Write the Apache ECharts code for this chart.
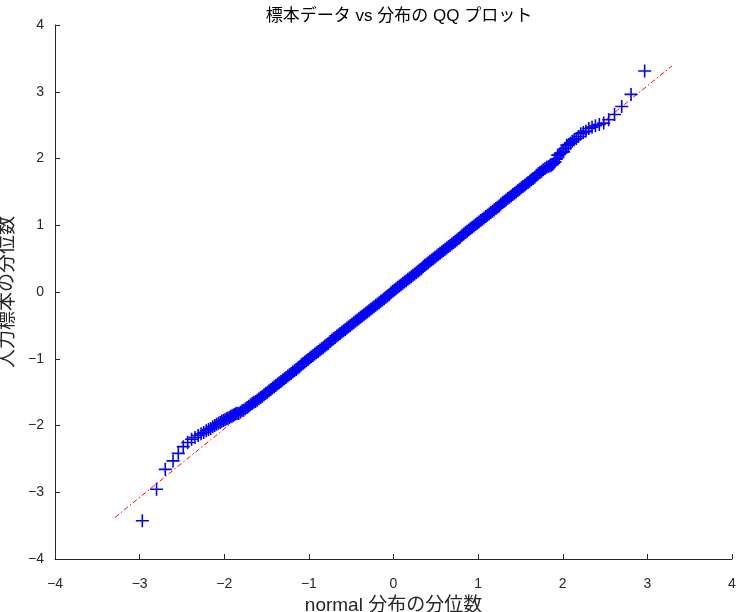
<!DOCTYPE html>
<html>
<head>
<meta charset="utf-8">
<script src="https://cdn.jsdelivr.net/npm/echarts@6/dist/echarts.min.js"></script>
<style>
html,body{margin:0;padding:0;background:#fff;}
#chart{width:739px;height:612px;}
</style>
</head>
<body>
<div id="chart"></div>
<script>
// Lower tail: theoretical quantiles / sample quantiles
var lowTailX = [-2.968,-2.800,-2.697,-2.605,-2.543,-2.484,-2.432,-2.386,-2.346,-2.308,-2.274,-2.243,-2.213,-2.186,-2.160,-2.135,-2.112,-2.090,-2.069,-2.048,-2.029,-2.010,-1.991,-1.974,-1.957,-1.940,-1.924,-1.908,-1.893,-1.878,-1.863,-1.849];
var lowTailY = [-3.426,-2.956,-2.657,-2.530,-2.417,-2.317,-2.255,-2.207,-2.180,-2.150,-2.125,-2.105,-2.080,-2.060,-2.045,-2.020,-2.000,-1.980,-1.965,-1.955,-1.935,-1.925,-1.915,-1.900,-1.893,-1.880,-1.865,-1.855,-1.845,-1.835,-1.825,-1.815];
// Dense middle band
var midX = [
  -1.83,-1.81,-1.79,-1.77,-1.75,-1.73,-1.71,-1.69,-1.67,-1.65,-1.63,-1.61,-1.59,-1.57,-1.55,-1.53,-1.51,-1.49,-1.47,-1.45,
  -1.43,-1.41,-1.39,-1.37,-1.35,-1.33,-1.31,-1.29,-1.27,-1.25,-1.23,-1.21,-1.19,-1.17,-1.15,-1.13,-1.11,-1.09,-1.07,-1.05,
  -1.03,-1.01,-0.99,-0.97,-0.95,-0.93,-0.91,-0.89,-0.87,-0.85,-0.83,-0.81,-0.79,-0.77,-0.75,-0.73,-0.71,-0.69,-0.67,-0.65,
  -0.63,-0.61,-0.59,-0.57,-0.55,-0.53,-0.51,-0.49,-0.47,-0.45,-0.43,-0.41,-0.39,-0.37,-0.35,-0.33,-0.31,-0.29,-0.27,-0.25,
  -0.23,-0.21,-0.19,-0.17,-0.15,-0.13,-0.11,-0.09,-0.07,-0.05,-0.03,-0.01,
  0.01,0.03,0.05,0.07,0.09,0.11,0.13,0.15,0.17,0.19,0.21,0.23,0.25,0.27,0.29,0.31,0.33,0.35,0.37,0.39,
  0.41,0.43,0.45,0.47,0.49,0.51,0.53,0.55,0.57,0.59,0.61,0.63,0.65,0.67,0.69,0.71,0.73,0.75,0.77,0.79,
  0.81,0.83,0.85,0.87,0.89,0.91,0.93,0.95,0.97,0.99,1.01,1.03,1.05,1.07,1.09,1.11,1.13,1.15,1.17,1.19,
  1.21,1.23,1.25,1.27,1.29,1.31,1.33,1.35,1.37,1.39,1.41,1.43,1.45,1.47,1.49,1.51,1.53,1.55,1.57,1.59,
  1.61,1.63,1.65,1.67,1.69,1.71,1.73,1.75,1.77,1.79,1.81,1.83
];
var midY = [
  -1.82,-1.80,-1.78,-1.77,-1.75,-1.73,-1.71,-1.69,-1.67,-1.65,-1.64,-1.62,-1.60,-1.58,-1.56,-1.54,-1.52,-1.50,-1.48,-1.46,
  -1.44,-1.42,-1.40,-1.38,-1.36,-1.34,-1.32,-1.30,-1.28,-1.26,-1.24,-1.22,-1.20,-1.18,-1.16,-1.14,-1.12,-1.09,-1.07,-1.05,
  -1.03,-1.01,-0.99,-0.97,-0.95,-0.93,-0.91,-0.89,-0.87,-0.85,-0.83,-0.81,-0.79,-0.77,-0.74,-0.72,-0.70,-0.68,-0.66,-0.64,
  -0.62,-0.60,-0.58,-0.56,-0.54,-0.52,-0.50,-0.48,-0.46,-0.44,-0.42,-0.40,-0.38,-0.36,-0.34,-0.32,-0.30,-0.28,-0.26,-0.24,
  -0.22,-0.20,-0.18,-0.16,-0.14,-0.12,-0.10,-0.08,-0.06,-0.04,-0.01,0.01,
  0.03,0.05,0.07,0.09,0.11,0.13,0.15,0.17,0.19,0.21,0.23,0.25,0.27,0.29,0.31,0.33,0.35,0.38,0.40,0.42,
  0.44,0.46,0.48,0.50,0.52,0.54,0.56,0.58,0.60,0.62,0.64,0.66,0.68,0.70,0.72,0.74,0.76,0.78,0.80,0.82,
  0.85,0.87,0.89,0.91,0.93,0.95,0.97,0.99,1.01,1.03,1.05,1.07,1.09,1.11,1.13,1.15,1.17,1.19,1.21,1.23,
  1.25,1.27,1.29,1.32,1.34,1.36,1.38,1.40,1.42,1.44,1.46,1.48,1.50,1.52,1.54,1.56,1.58,1.60,1.62,1.64,
  1.66,1.68,1.70,1.72,1.75,1.77,1.79,1.81,1.83,1.85,1.87,1.88
];
// Upper tail
var highTailX = [1.849,1.863,1.878,1.893,1.908,1.924,1.940,1.957,1.974,1.991,2.010,2.029,2.048,2.069,2.090,2.112,2.135,2.160,2.186,2.213,2.243,2.274,2.308,2.346,2.386,2.432,2.484,2.543,2.612,2.697,2.807,2.968];
var highTailY = [1.89,1.90,1.91,1.93,1.95,1.99,2.05,2.06,2.08,2.09,2.10,2.15,2.20,2.21,2.23,2.26,2.28,2.30,2.33,2.37,2.39,2.41,2.45,2.47,2.49,2.51,2.53,2.58,2.66,2.78,2.96,3.31];
// Reference line end points
var refX = [-3.29, 3.29];
var refY = [-3.376, 3.386];
var axisTicks = [-4,-3,-2,-1,0,1,2,3,4];

var titleText = '標本データ vs 分布の QQ プロット';
var xName = 'normal 分布の分位数';
var yName = '入力標本の分位数';

var allX = lowTailX.concat(midX, highTailX);
var allY = lowTailY.concat(midY, highTailY);
var pts = allX.map(function(x,i){ return [x, allY[i]]; });
var linePts = refX.map(function(x,i){ return [x, refY[i]]; });

var FONT = "'Liberation Sans', 'Noto Sans CJK JP', sans-serif";
var AX = '#262626';
function fmt(v){ return String(v).replace('-', '\u2212'); }

var chart = echarts.init(document.getElementById('chart'), null, {renderer:'canvas'});
chart.setOption({
  animation:false,
  backgroundColor:'#ffffff',
  title:{
    text:titleText, left:394, top:3, textAlign:'center',
    textStyle:{fontFamily:FONT, fontSize:17, fontWeight:'normal', color:'#000'}
  },
  grid:{left:55, right:7, top:25, bottom:53, containLabel:false, outerBoundsMode:'none'},
  xAxis:{
    type:'value', min:axisTicks[0], max:axisTicks[axisTicks.length-1], interval:1,
    name:xName, nameLocation:'middle', nameGap:35,
    nameTextStyle:{fontFamily:FONT, fontSize:19, color:AX},
    axisLine:{show:true, onZero:false, lineStyle:{color:AX, width:1}},
    axisTick:{show:true, inside:true, length:5, lineStyle:{color:AX}},
    axisLabel:{margin:18, fontFamily:FONT, fontSize:14, color:AX, formatter:fmt},
    splitLine:{show:false}
  },
  yAxis:{
    type:'value', min:axisTicks[0], max:axisTicks[axisTicks.length-1], interval:1,
    name:yName, nameLocation:'middle', nameGap:34,
    nameTextStyle:{fontFamily:FONT, fontSize:19, color:AX},
    axisLine:{show:true, onZero:false, lineStyle:{color:AX, width:1}},
    axisTick:{show:true, inside:true, length:5, lineStyle:{color:AX}},
    axisLabel:{margin:11, fontFamily:FONT, fontSize:14, color:AX, formatter:fmt},
    splitLine:{show:false}
  },
  series:[
    {
      type:'line', data:linePts, symbol:'none', z:1, silent:true,
      lineStyle:{color:'#ff0000', width:1, type:[5,2.5,1.5,2.5]}
    },
    {
      type:'scatter', data:pts, z:2, large:false,
      symbol:'path://M0,5.7L13,5.7L13,7.3L0,7.3Z M5.7,0L7.3,0L7.3,13L5.7,13Z',
      symbolSize:13,
      itemStyle:{color:'#0000ff', opacity:1}
    }
  ]
});
</script>
</body>
</html>
